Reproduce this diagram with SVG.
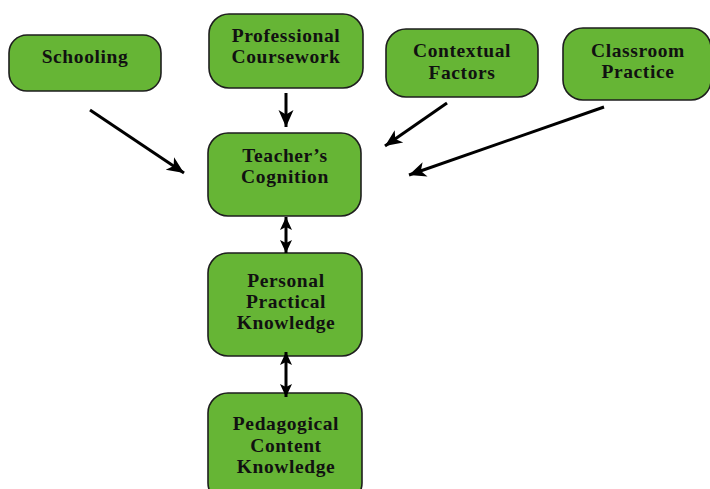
<svg xmlns="http://www.w3.org/2000/svg" width="710" height="489" viewBox="0 0 710 489">
<style>
.box{fill:#66b535;stroke:#1e1e1e;stroke-width:1.6}
.t{font-family:"Liberation Serif","Times New Roman",serif;font-weight:bold;font-size:19.5px;letter-spacing:0.6px;fill:#111;text-anchor:middle}
.c{stroke:#000;stroke-width:3;fill:none}
</style>
<defs>
<marker id="ah" markerWidth="18" markerHeight="18" refX="17" refY="9" orient="auto" markerUnits="userSpaceOnUse" viewBox="0 0 18 18">
<path d="M0,1.5 L17,9 L0,16.5 L4.5,9 Z" fill="#000"/>
</marker>
<marker id="as" markerWidth="14" markerHeight="14" refX="13" refY="7" orient="auto-start-reverse" markerUnits="userSpaceOnUse" viewBox="0 0 14 14">
<path d="M0,1 L13,7 L0,13 L3,7 Z" fill="#000"/>
</marker>
</defs>
<rect width="710" height="489" fill="#fff"/>
<g id="schooling"><rect class="box" x="9" y="35" width="152" height="56" rx="18"/><text class="t" x="85" y="63">Schooling</text></g>
<g id="professional"><rect class="box" x="209" y="14" width="154" height="74" rx="20"/><text class="t" x="286" y="42">Professional</text><text class="t" x="286" y="63">Coursework</text></g>
<g id="contextual"><rect class="box" x="386" y="29" width="152" height="68" rx="20"/><text class="t" x="462" y="57">Contextual</text><text class="t" x="462" y="79">Factors</text></g>
<g id="classroom"><rect class="box" x="563" y="28" width="148" height="72" rx="20"/><text class="t" x="638" y="57">Classroom</text><text class="t" x="638" y="78">Practice</text></g>
<g id="cognition"><rect class="box" x="208" y="133" width="153" height="83" rx="20"/><text class="t" x="285" y="162">Teacher’s</text><text class="t" x="285" y="183">Cognition</text></g>
<g id="ppk"><rect class="box" x="208" y="253" width="154" height="103" rx="20"/><text class="t" x="286" y="287">Personal</text><text class="t" x="286" y="308">Practical</text><text class="t" x="286" y="329">Knowledge</text></g>
<g id="pck"><rect class="box" x="208" y="393" width="154" height="110" rx="20"/><text class="t" x="286" y="430">Pedagogical</text><text class="t" x="286" y="452">Content</text><text class="t" x="286" y="473">Knowledge</text></g>
<g id="connectors">
<line class="c" x1="90" y1="110" x2="184" y2="173" marker-end="url(#ah)"/>
<line class="c" x1="286" y1="93" x2="286" y2="127" marker-end="url(#ah)"/>
<line class="c" x1="447" y1="103" x2="385" y2="146" marker-end="url(#ah)"/>
<line class="c" x1="604" y1="107" x2="409" y2="175" marker-end="url(#ah)"/>
<line class="c" x1="286" y1="217" x2="286" y2="253" marker-start="url(#as)" marker-end="url(#as)"/>
<line class="c" x1="286" y1="352" x2="286" y2="397" marker-start="url(#as)" marker-end="url(#as)"/>
</g>
</svg>
